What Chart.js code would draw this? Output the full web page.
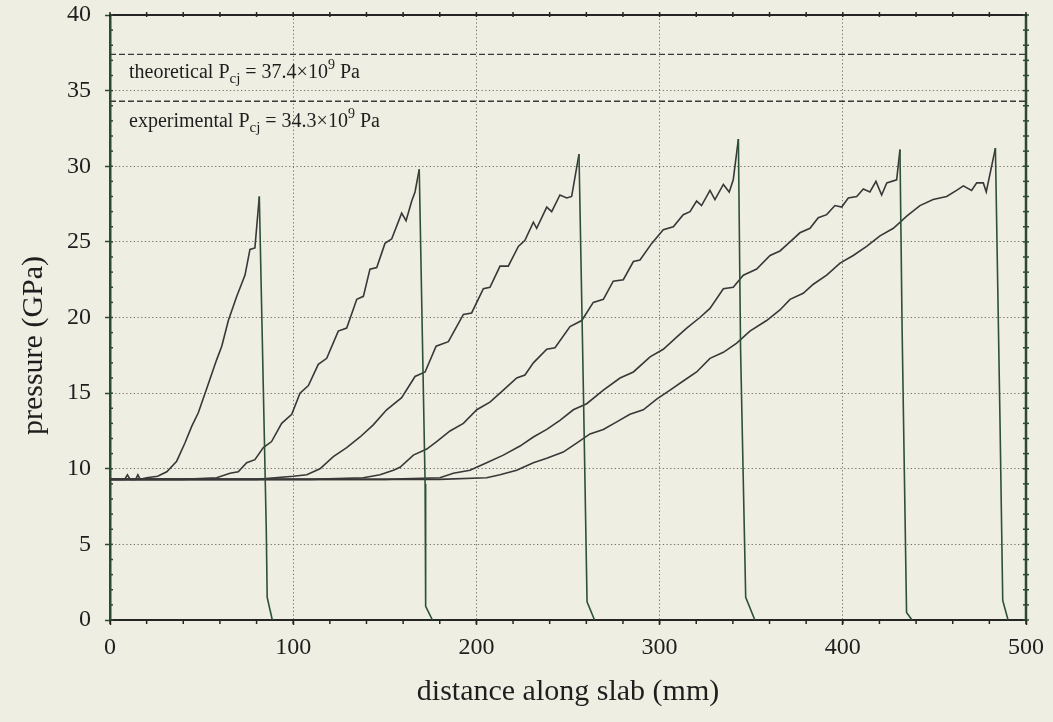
<!DOCTYPE html>
<html>
<head>
<meta charset="utf-8">
<script src="https://cdn.jsdelivr.net/npm/chart.js@4.4.1/dist/chart.umd.min.js"></script>
<style>
  html, body { margin: 0; padding: 0; background: #efeee2; }
  #wrap { width: 1053px; height: 722px; }
</style>
</head>
<body>
<div id="wrap"><canvas id="slab" width="1053" height="722"></canvas></div>
<script>
// Pressure profiles along the slab at six successive times (x in mm, p in GPa)
const curve1X = [0, 8, 9.5, 11, 14, 15.2, 16.5, 20, 26, 31, 36.4, 40.9, 44.6, 48.2, 52.8, 58.2, 61, 64.6, 69.2, 73.7, 76.4, 79.1, 81.5, 85.3, 85.8, 88.6];
const curve1Y = [9.3, 9.3, 9.6, 9.3, 9.3, 9.6, 9.3, 9.4, 9.5, 9.8, 10.5, 11.7, 12.8, 13.7, 15.3, 17.2, 18.1, 19.8, 21.4, 22.8, 24.5, 24.6, 28.0, 6.0, 1.5, 0];

const curve2X = [0, 40, 58.2, 65.5, 70, 74.6, 79.1, 83.7, 88.2, 93.7, 99.2, 103.7, 108.3, 113.7, 118.3, 124.6, 129.2, 134.7, 138.3, 141.9, 145.6, 150.1, 153.8, 159.2, 161.6, 164.7, 166.5, 168.8, 172.0, 172.3, 176];
const curve2Y = [9.3, 9.3, 9.4, 9.7, 9.8, 10.4, 10.6, 11.4, 11.8, 13.0, 13.6, 15.0, 15.5, 16.9, 17.3, 19.1, 19.3, 21.2, 21.4, 23.2, 23.3, 24.9, 25.2, 26.9, 26.4, 27.7, 28.3, 29.8, 9.0, 0.9, 0];

const curve3X = [0, 80, 100, 107.4, 114.6, 121.9, 129.2, 136.5, 143.7, 151, 159.2, 166.5, 172, 178, 184.7, 192.9, 197.4, 203.8, 207.4, 212.9, 217.4, 222.9, 226.5, 231.1, 232.9, 238.4, 241.1, 245.6, 249.3, 252, 256, 258.4, 260.4, 264.5];
const curve3Y = [9.3, 9.3, 9.5, 9.6, 10.0, 10.8, 11.4, 12.1, 12.9, 13.9, 14.7, 16.1, 16.4, 18.1, 18.4, 20.2, 20.3, 21.9, 22.0, 23.4, 23.4, 24.7, 25.1, 26.3, 25.9, 27.3, 27.0, 28.1, 27.9, 28.0, 30.8, 15.2, 1.2, 0];

const curve4X = [0, 110, 138.3, 147.4, 154.7, 158.3, 165.6, 172.9, 178.3, 185.6, 192.9, 200.2, 207.4, 214.7, 222, 226.5, 231.1, 238.4, 242.9, 251.1, 257.5, 263.8, 269.3, 274.7, 280.2, 285.7, 289.3, 295.7, 302, 307.5, 312.9, 316.6, 320.2, 322.9, 327.5, 330.2, 334.8, 338, 340.2, 343, 344.2, 347, 352];
const curve4Y = [9.3, 9.3, 9.4, 9.6, 9.9, 10.1, 10.9, 11.3, 11.8, 12.5, 13.0, 13.9, 14.4, 15.2, 16.0, 16.2, 17.0, 17.9, 18.0, 19.4, 19.8, 21.0, 21.2, 22.4, 22.5, 23.7, 23.8, 24.9, 25.8, 26.0, 26.8, 27.0, 27.7, 27.4, 28.4, 27.8, 28.8, 28.3, 29.1, 31.8, 17.9, 1.5, 0];

const curve5X = [0, 150, 180.1, 187.4, 196.5, 205.6, 214.7, 223.8, 231.1, 238.4, 245.6, 252.9, 260.2, 269.3, 278.4, 285.7, 294.8, 302, 309.3, 314.8, 322, 327.5, 334.8, 340.2, 345.7, 353, 360.3, 365.7, 371.2, 376.6, 382.1, 386.6, 391.2, 395.7, 399.4, 403, 407.6, 411.2, 414.8, 418.1, 421.2, 424, 429.4, 431.2, 432.4, 434.8, 437.8];
const curve5Y = [9.3, 9.3, 9.4, 9.7, 9.9, 10.4, 10.9, 11.5, 12.1, 12.6, 13.2, 13.9, 14.3, 15.2, 16.0, 16.4, 17.4, 17.9, 18.7, 19.3, 20.0, 20.6, 21.9, 22.0, 22.8, 23.2, 24.1, 24.4, 25.0, 25.6, 25.9, 26.6, 26.8, 27.4, 27.3, 27.9, 28.0, 28.5, 28.3, 29.0, 28.1, 28.9, 29.1, 31.1, 19.0, 0.5, 0];

const curve6X = [0, 180, 205.6, 212.9, 222, 231.1, 238.4, 247.4, 254.7, 262, 269.3, 276.6, 283.8, 291.1, 298.4, 305.7, 312.9, 320.2, 327.5, 334.8, 342.1, 349.3, 358.4, 365.7, 371.2, 378.4, 383.9, 391.2, 398.5, 405.7, 413, 420.3, 427.6, 434.9, 442.1, 449.3, 456.7, 462.1, 465.8, 470.3, 473.1, 476.7, 478.3, 483.3, 485.8, 487.3, 490.2];
const curve6Y = [9.3, 9.3, 9.4, 9.6, 9.9, 10.4, 10.7, 11.1, 11.7, 12.3, 12.6, 13.1, 13.6, 13.9, 14.6, 15.2, 15.8, 16.4, 17.3, 17.7, 18.3, 19.1, 19.8, 20.5, 21.2, 21.6, 22.2, 22.8, 23.6, 24.1, 24.7, 25.4, 25.9, 26.7, 27.4, 27.8, 28.0, 28.4, 28.7, 28.4, 28.9, 28.9, 28.3, 31.2, 13.2, 1.3, 0];

// Chapman-Jouguet reference pressures (GPa)
const pcjTheoretical = 37.4;
const pcjExperimental = 34.3;
const slabEnds = [0, 500];

const paper = '#efeee2';
const ink = '#1e1e1e';
const curveColor = '#383838';
const frontColor = '#2c5236';
const axisDark = '#252525';
const axisGreen = '#2a4a31';
const gridColor = '#75756f';
const serif = '"Liberation Serif", "Times New Roman", serif';

function profile(xs, ys) {
  const peak = ys.indexOf(Math.max(...ys));
  return {
    data: xs.map((x, i) => ({ x: x, y: ys[i] })),
    borderColor: curveColor,
    borderWidth: 1.6,
    pointRadius: 0,
    tension: 0,
    segment: {
      // the falling front after the peak is drawn in green
      borderColor: ctx => ctx.p0DataIndex >= peak ? frontColor : curveColor
    }
  };
}

function levelLine(p) {
  return {
    data: slabEnds.map(x => ({ x: x, y: p })),
    borderColor: '#3a3a3a',
    borderWidth: 1.4,
    borderDash: [6, 3],
    pointRadius: 0
  };
}

function drawPcj(ctx, x0, yBase, lead, value) {
  let x = x0;
  const put = (t, size, dy) => {
    ctx.font = size + 'px ' + serif;
    ctx.fillText(t, x, yBase + dy);
    x += ctx.measureText(t).width;
  };
  put(lead + ' P', 20, 0);
  put('cj', 15, 5);
  put(' = ' + value + '\u00d710', 20, 0);
  put('9', 14, -9);
  put(' Pa', 20, 0);
}

const slabDecor = {
  id: 'slabDecor',
  beforeDraw(chart) {
    const { ctx, width, height } = chart;
    ctx.save();
    ctx.fillStyle = paper;
    ctx.fillRect(0, 0, width, height);
    ctx.restore();
  },
  afterDraw(chart) {
    const { ctx, chartArea: a, scales: { x, y } } = chart;
    const line = (x1, y1, x2, y2) => {
      ctx.beginPath(); ctx.moveTo(x1, y1); ctx.lineTo(x2, y2); ctx.stroke();
    };
    ctx.save();

    // top and right edges of the frame
    ctx.strokeStyle = axisDark;
    ctx.lineWidth = 2;
    line(a.left, a.top, a.right + 1, a.top);
    ctx.strokeStyle = axisGreen;
    ctx.lineWidth = 2.5;
    line(a.right, a.top, a.right, a.bottom);

    // minor ticks: 1 GPa and 20 mm
    ctx.lineWidth = 1.5;
    ctx.strokeStyle = axisGreen;
    for (let v = 0; v <= 40; v++) {
      const py = y.getPixelForValue(v);
      line(a.left, py, a.left + 3, py);
      line(a.right - 3, py, a.right + 3, py);
    }
    ctx.strokeStyle = axisDark;
    for (let v = 0; v <= 500; v += 20) {
      const px = x.getPixelForValue(v);
      line(px, a.bottom, px, a.bottom + 4);
      line(px, a.top - 3, px, a.top + 2);
    }

    // Pcj labels above each dashed level
    ctx.fillStyle = ink;
    ctx.textBaseline = 'alphabetic';
    ctx.textAlign = 'left';
    const lx = x.getPixelForValue(0) + 19;
    drawPcj(ctx, lx, y.getPixelForValue(pcjTheoretical) + 24, 'theoretical', pcjTheoretical);
    drawPcj(ctx, lx, y.getPixelForValue(pcjExperimental) + 26, 'experimental', pcjExperimental);

    // y axis title
    ctx.save();
    ctx.translate(34, (a.top + a.bottom) / 2 + 28);
    ctx.rotate(-Math.PI / 2);
    ctx.textAlign = 'center';
    ctx.textBaseline = 'middle';
    ctx.font = '30px ' + serif;
    ctx.fillText('pressure (GPa)', 0, 0);
    ctx.restore();

    ctx.restore();
  }
};

new Chart(document.getElementById('slab'), {
  type: 'line',
  data: {
    datasets: [
      levelLine(pcjTheoretical),
      levelLine(pcjExperimental),
      profile(curve1X, curve1Y),
      profile(curve2X, curve2Y),
      profile(curve3X, curve3Y),
      profile(curve4X, curve4Y),
      profile(curve5X, curve5Y),
      profile(curve6X, curve6Y)
    ]
  },
  options: {
    responsive: false,
    animation: false,
    devicePixelRatio: 1,
    layout: { padding: { left: 0, right: 27, top: 15, bottom: 0 } },
    plugins: { legend: { display: false }, tooltip: { enabled: false } },
    scales: {
      x: {
        type: 'linear',
        min: 0,
        max: 500,
        ticks: { stepSize: 100, color: ink, padding: 8, maxRotation: 0, font: { family: serif, size: 24 } },
        grid: { color: gridColor, lineWidth: 1, tickLength: 5, tickColor: axisDark, tickWidth: 1.5 },
        border: { color: axisDark, width: 2, dash: [1.3, 2.4] },
        title: {
          display: true,
          text: 'distance along slab (mm)',
          color: ink,
          font: { family: serif, size: 30 },
          padding: { top: 0, bottom: 12 }
        },
        afterFit(scale) {
          scale.height = 102;
          scale.paddingLeft = 0;
          scale.paddingRight = 0;
        }
      },
      y: {
        type: 'linear',
        min: 0,
        max: 40,
        ticks: { stepSize: 5, color: ink, padding: 14, font: { family: serif, size: 24 } },
        grid: { color: gridColor, lineWidth: 1, tickLength: 5, tickColor: axisGreen, tickWidth: 1.5 },
        border: { color: axisGreen, width: 2.5, dash: [1.3, 2.4] },
        afterFit(scale) {
          scale.width = 110;
          scale.paddingTop = 0;
          scale.paddingBottom = 0;
        }
      }
    }
  },
  plugins: [slabDecor]
});
</script>
</body>
</html>
